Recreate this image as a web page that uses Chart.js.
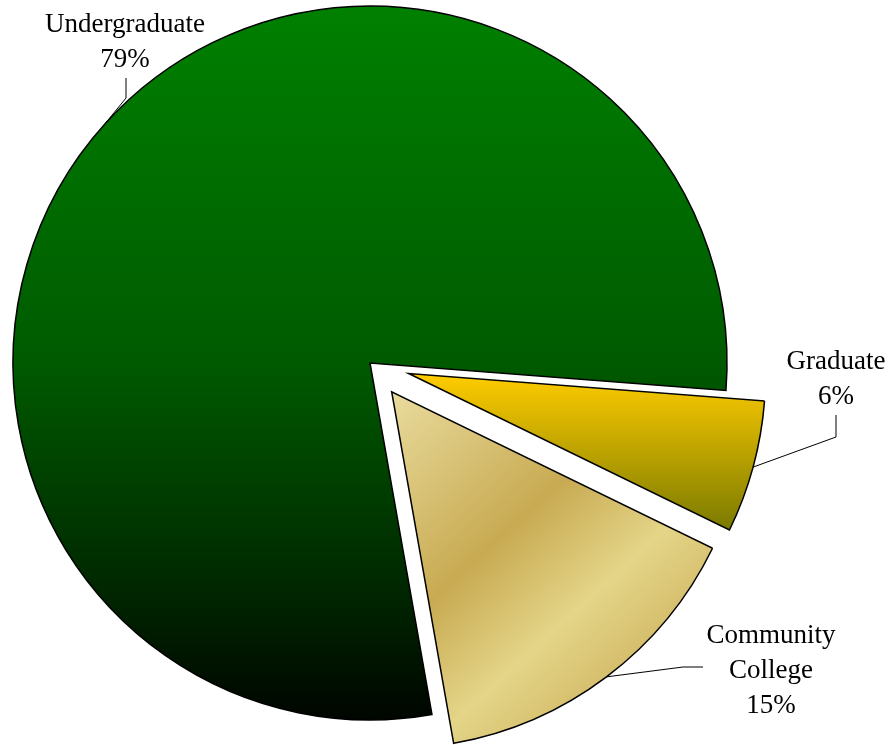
<!DOCTYPE html>
<html>
<head>
<meta charset="utf-8">
<script src="https://cdn.jsdelivr.net/npm/chart.js@4.4.1/dist/chart.umd.min.js"></script>
<style>
  body { margin: 0; background: #fff; }
  canvas { display: block; }
</style>
</head>
<body>
<canvas id="pie" width="891" height="745"></canvas>
<script>
const categories = ['Undergraduate', 'Graduate', 'Community College'];
const labelLines = [['Undergraduate'], ['Graduate'], ['Community', 'College']];
const shares = [79, 6, 15];

// how far each slice is pulled out of the pie (px)
const explode = [0, 40, 36];

// label text (centre x, first baseline) and the bend of each leader line
const labelLayout = [
  { x: 125, y: 32, elbow: [126, 98], end: [126, 78] },
  { x: 836, y: 369, elbow: [836, 437], end: [836, 415] },
  { x: 771, y: 643, elbow: [683, 667], end: [703, 667] }
];

const FONT = '27px "Liberation Serif", "Times New Roman", serif';
const LINE_H = 35;

function sliceBox(arc) {
  const pts = [[arc.x, arc.y]];
  for (let k = 0; k <= 40; k++) {
    const a = arc.startAngle + (arc.endAngle - arc.startAngle) * k / 40;
    pts.push([arc.x + Math.cos(a) * arc.outerRadius, arc.y + Math.sin(a) * arc.outerRadius]);
  }
  const xs = pts.map(p => p[0]), ys = pts.map(p => p[1]);
  return { x0: Math.min(...xs), x1: Math.max(...xs), y0: Math.min(...ys), y1: Math.max(...ys) };
}

function fillFor(ctx, arc, i) {
  const b = sliceBox(arc);
  let g;
  if (i === 0) {
    g = ctx.createLinearGradient(0, b.y0, 0, b.y1);
    g.addColorStop(0, '#008000');
    g.addColorStop(0.5, '#005a00');
    g.addColorStop(0.8, '#002a00');
    g.addColorStop(1, '#000500');
  } else if (i === 1) {
    g = ctx.createLinearGradient(0, b.y0, 0, b.y1);
    g.addColorStop(0, '#ffcc00');
    g.addColorStop(1, '#7a7a00');
  } else {
    // brushed gold, banded on the diagonal
    g = ctx.createLinearGradient(b.x0, b.y0, b.x1, b.y1);
    g.addColorStop(0, '#e9dc9e');
    g.addColorStop(0.38, '#c8aa52');
    g.addColorStop(0.6, '#e4d588');
    g.addColorStop(0.88, '#c9ab55');
    g.addColorStop(1, '#c9ab55');
  }
  return g;
}

const explodePlugin = {
  id: 'explode',
  afterDatasetUpdate(chart, args) {
    const c = chart.ctx;
    args.meta.data.forEach((arc, i) => {
      const mid = (arc.startAngle + arc.endAngle) / 2;
      arc.x += Math.cos(mid) * explode[i];
      arc.y += Math.sin(mid) * explode[i];
      arc.options = Object.assign({}, arc.options, { backgroundColor: fillFor(c, arc, i) });
    });
  }
};

const labelPlugin = {
  id: 'sliceLabels',
  afterDatasetsDraw(chart) {
    const c = chart.ctx;
    const arcs = chart.getDatasetMeta(0).data;
    c.save();
    arcs.forEach((arc, i) => {
      const mid = (arc.startAngle + arc.endAngle) / 2;
      const lay = labelLayout[i];
      c.strokeStyle = '#000';
      c.lineWidth = 1;
      c.beginPath();
      c.moveTo(arc.x + Math.cos(mid) * arc.outerRadius, arc.y + Math.sin(mid) * arc.outerRadius);
      c.lineTo(lay.elbow[0], lay.elbow[1]);
      c.lineTo(lay.end[0], lay.end[1]);
      c.stroke();

      c.fillStyle = '#000';
      c.font = FONT;
      c.textAlign = 'center';
      c.textBaseline = 'alphabetic';
      const lines = labelLines[i].concat([shares[i] + '%']);
      lines.forEach((t, k) => c.fillText(t, lay.x, lay.y + k * LINE_H));
    });
    c.restore();
  }
};

new Chart(document.getElementById('pie'), {
  type: 'pie',
  data: {
    labels: categories,
    datasets: [{
      data: shares,
      backgroundColor: ['#008000', '#ffcc00', '#d8c070'],
      borderColor: '#000',
      borderWidth: 1.5,
      borderJoinStyle: 'miter',
      radius: 357
    }]
  },
  options: {
    responsive: false,
    animation: false,
    events: [],
    rotation: 170,
    layout: { padding: { left: 0, right: 151, top: 0, bottom: 19 } },
    plugins: { legend: { display: false }, tooltip: { enabled: false } }
  },
  plugins: [explodePlugin, labelPlugin]
});
</script>
</body>
</html>
